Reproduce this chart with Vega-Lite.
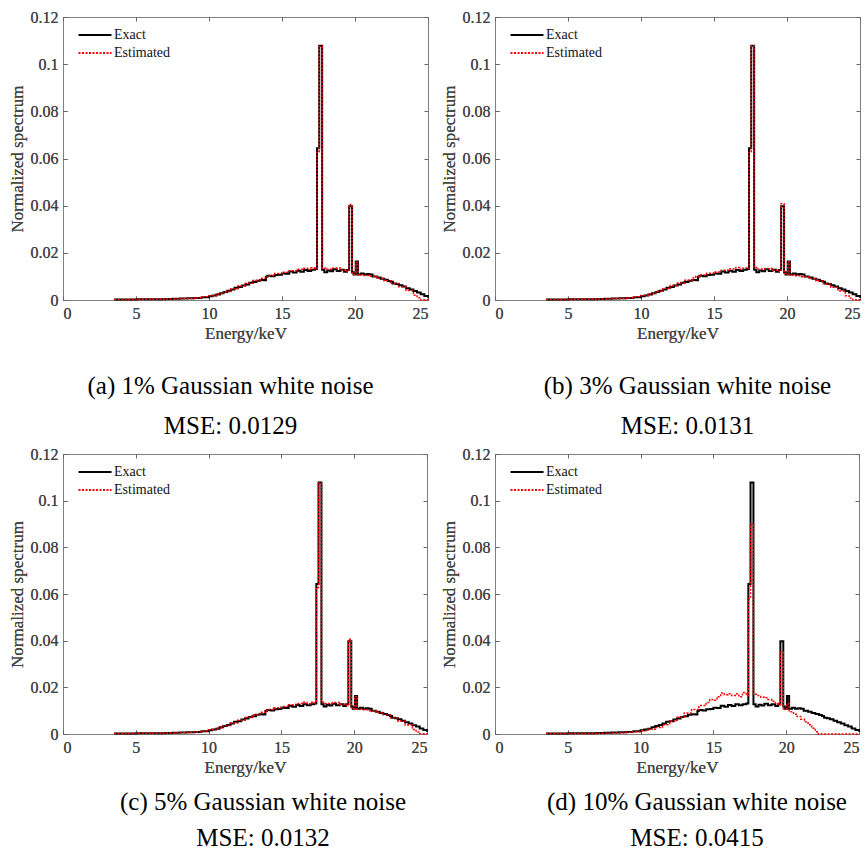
{
  "$schema": "https://vega.github.io/schema/vega-lite/v6.json",
  "background": "white",
  "padding": {"left": 7, "top": 8, "right": 0, "bottom": 0},
  "columns": 2,
  "spacing": {"row": 5, "column": 6},
  "resolve": {"scale": {"color": "independent", "strokeDash": "independent"}},
  "config": {
    "font": "Liberation Serif",
    "view": {"stroke": "#808080", "strokeWidth": 1},
    "axis": {
      "labelFont": "Liberation Serif", "titleFont": "Liberation Serif",
      "labelFontSize": 16, "titleFontSize": 17, "titleFontWeight": "normal",
      "labelColor": "#444444", "titleColor": "#444444",
      "tickColor": "#666666", "tickSize": -4, "domain": false, "grid": false,
      "labelPadding": 9, "titlePadding": 4
    },
    "legend": {
      "orient": "top-left", "title": null, "offset": 11, "padding": 0,
      "symbolType": "M-0.5,0H6.1", "symbolSize": 100, "symbolStrokeWidth": 2,
      "labelFont": "Liberation Serif", "labelFontSize": 14, "labelColor": "#111111",
      "labelOffset": 26, "rowPadding": 4
    }
  },
  "datasets": {
    "exact": [
      {"s":"Exact","e":3.5,"v":0.0002},{"s":"Exact","e":4,"v":0.0002},{"s":"Exact","e":4.5,"v":0.0002},{"s":"Exact","e":5,"v":0.0003},
      {"s":"Exact","e":5.5,"v":0.0003},{"s":"Exact","e":6,"v":0.0003},{"s":"Exact","e":6.5,"v":0.0003},{"s":"Exact","e":7,"v":0.0004},
      {"s":"Exact","e":7.5,"v":0.0005},{"s":"Exact","e":8,"v":0.0006},{"s":"Exact","e":8.5,"v":0.0007},{"s":"Exact","e":9,"v":0.0009},
      {"s":"Exact","e":9.5,"v":0.0012},{"s":"Exact","e":10,"v":0.0016},{"s":"Exact","e":10.25,"v":0.0019},{"s":"Exact","e":10.5,"v":0.0023},
      {"s":"Exact","e":10.75,"v":0.0029},{"s":"Exact","e":11,"v":0.0034},{"s":"Exact","e":11.25,"v":0.0039},{"s":"Exact","e":11.5,"v":0.0045},
      {"s":"Exact","e":11.75,"v":0.0052},{"s":"Exact","e":12,"v":0.0055},{"s":"Exact","e":12.25,"v":0.0062},{"s":"Exact","e":12.5,"v":0.0066},
      {"s":"Exact","e":12.75,"v":0.0073},{"s":"Exact","e":13,"v":0.0076},{"s":"Exact","e":13.25,"v":0.0082},{"s":"Exact","e":13.5,"v":0.0085},
      {"s":"Exact","e":13.75,"v":0.0084},{"s":"Exact","e":13.9,"v":0.0099},{"s":"Exact","e":14,"v":0.0103},{"s":"Exact","e":14.25,"v":0.0101},
      {"s":"Exact","e":14.5,"v":0.0106},{"s":"Exact","e":14.75,"v":0.0107},{"s":"Exact","e":15,"v":0.0112},{"s":"Exact","e":15.25,"v":0.0111},
      {"s":"Exact","e":15.5,"v":0.0121},{"s":"Exact","e":15.75,"v":0.0117},{"s":"Exact","e":16,"v":0.0124},{"s":"Exact","e":16.25,"v":0.012},
      {"s":"Exact","e":16.5,"v":0.0127},{"s":"Exact","e":16.75,"v":0.0123},{"s":"Exact","e":17,"v":0.0128},{"s":"Exact","e":17.25,"v":0.0131},
      {"s":"Exact","e":17.4,"v":0.0643},{"s":"Exact","e":17.55,"v":0.1078},{"s":"Exact","e":17.75,"v":0.0128},{"s":"Exact","e":17.9,"v":0.0118},
      {"s":"Exact","e":18.1,"v":0.0125},{"s":"Exact","e":18.3,"v":0.0122},{"s":"Exact","e":18.5,"v":0.013},{"s":"Exact","e":18.75,"v":0.0123},
      {"s":"Exact","e":19,"v":0.0128},{"s":"Exact","e":19.25,"v":0.012},{"s":"Exact","e":19.45,"v":0.0127},{"s":"Exact","e":19.6,"v":0.0398},
      {"s":"Exact","e":19.8,"v":0.0118},{"s":"Exact","e":19.9,"v":0.0108},{"s":"Exact","e":20.05,"v":0.0163},{"s":"Exact","e":20.2,"v":0.0108},
      {"s":"Exact","e":20.4,"v":0.0112},{"s":"Exact","e":20.6,"v":0.0108},{"s":"Exact","e":20.8,"v":0.011},{"s":"Exact","e":21,"v":0.0108},
      {"s":"Exact","e":21.2,"v":0.01},{"s":"Exact","e":21.5,"v":0.0095},{"s":"Exact","e":21.75,"v":0.009},{"s":"Exact","e":22,"v":0.0086},
      {"s":"Exact","e":22.25,"v":0.0081},{"s":"Exact","e":22.45,"v":0.0077},{"s":"Exact","e":22.6,"v":0.007},{"s":"Exact","e":22.8,"v":0.0068},
      {"s":"Exact","e":23,"v":0.0063},{"s":"Exact","e":23.25,"v":0.0057},{"s":"Exact","e":23.5,"v":0.005},{"s":"Exact","e":23.75,"v":0.0045},
      {"s":"Exact","e":24,"v":0.0038},{"s":"Exact","e":24.25,"v":0.0032},{"s":"Exact","e":24.5,"v":0.0024},{"s":"Exact","e":24.75,"v":0.0017},
      {"s":"Exact","e":25,"v":0.001}
    ],
    "estA": [
      {"s":"Estimated","e":3.5,"v":0.0002},{"s":"Estimated","e":5,"v":0.0003},{"s":"Estimated","e":7,"v":0.0004},{"s":"Estimated","e":8,"v":0.0006},
      {"s":"Estimated","e":9,"v":0.001},{"s":"Estimated","e":9.5,"v":0.0014},{"s":"Estimated","e":10,"v":0.0018},{"s":"Estimated","e":10.5,"v":0.0026},
      {"s":"Estimated","e":11,"v":0.0036},{"s":"Estimated","e":11.5,"v":0.0048},{"s":"Estimated","e":12,"v":0.006},{"s":"Estimated","e":12.5,"v":0.0071},
      {"s":"Estimated","e":13,"v":0.0083},{"s":"Estimated","e":13.5,"v":0.0092},{"s":"Estimated","e":14,"v":0.0104},{"s":"Estimated","e":14.5,"v":0.0112},
      {"s":"Estimated","e":15,"v":0.0118},{"s":"Estimated","e":15.5,"v":0.0124},{"s":"Estimated","e":16,"v":0.013},{"s":"Estimated","e":16.5,"v":0.0135},
      {"s":"Estimated","e":16.75,"v":0.0129},{"s":"Estimated","e":17,"v":0.0137},{"s":"Estimated","e":17.25,"v":0.0133},{"s":"Estimated","e":17.4,"v":0.063},
      {"s":"Estimated","e":17.55,"v":0.1075},{"s":"Estimated","e":17.75,"v":0.0135},{"s":"Estimated","e":18,"v":0.013},{"s":"Estimated","e":18.5,"v":0.0136},
      {"s":"Estimated","e":19,"v":0.0127},{"s":"Estimated","e":19.45,"v":0.0122},{"s":"Estimated","e":19.6,"v":0.0405},{"s":"Estimated","e":19.8,"v":0.0113},
      {"s":"Estimated","e":19.9,"v":0.011},{"s":"Estimated","e":20.05,"v":0.016},{"s":"Estimated","e":20.2,"v":0.0107},{"s":"Estimated","e":20.5,"v":0.0104},
      {"s":"Estimated","e":21,"v":0.0101},{"s":"Estimated","e":21.5,"v":0.0092},{"s":"Estimated","e":22,"v":0.0082},{"s":"Estimated","e":22.5,"v":0.007},
      {"s":"Estimated","e":23,"v":0.0056},{"s":"Estimated","e":23.5,"v":0.004},{"s":"Estimated","e":24,"v":0.002},{"s":"Estimated","e":24.25,"v":0.001},
      {"s":"Estimated","e":24.5,"v":0.0001},{"s":"Estimated","e":25,"v":0}
    ],
    "estB": [
      {"s":"Estimated","e":3.5,"v":0.0002},{"s":"Estimated","e":5,"v":0.0003},{"s":"Estimated","e":7,"v":0.0004},{"s":"Estimated","e":8,"v":0.0006},
      {"s":"Estimated","e":9,"v":0.001},{"s":"Estimated","e":9.5,"v":0.0014},{"s":"Estimated","e":10,"v":0.0019},{"s":"Estimated","e":10.5,"v":0.0027},
      {"s":"Estimated","e":11,"v":0.0037},{"s":"Estimated","e":11.5,"v":0.0049},{"s":"Estimated","e":12,"v":0.0061},{"s":"Estimated","e":12.5,"v":0.0072},
      {"s":"Estimated","e":13,"v":0.0084},{"s":"Estimated","e":13.5,"v":0.0094},{"s":"Estimated","e":13.75,"v":0.01},{"s":"Estimated","e":14,"v":0.0106},
      {"s":"Estimated","e":14.5,"v":0.0113},{"s":"Estimated","e":15,"v":0.0119},{"s":"Estimated","e":15.5,"v":0.0126},{"s":"Estimated","e":16,"v":0.0131},
      {"s":"Estimated","e":16.5,"v":0.0138},{"s":"Estimated","e":16.75,"v":0.013},{"s":"Estimated","e":17,"v":0.0136},{"s":"Estimated","e":17.25,"v":0.0134},
      {"s":"Estimated","e":17.4,"v":0.0625},{"s":"Estimated","e":17.55,"v":0.1078},{"s":"Estimated","e":17.75,"v":0.0138},{"s":"Estimated","e":18,"v":0.0131},
      {"s":"Estimated","e":18.5,"v":0.0134},{"s":"Estimated","e":19,"v":0.0126},{"s":"Estimated","e":19.45,"v":0.0121},{"s":"Estimated","e":19.6,"v":0.0408},
      {"s":"Estimated","e":19.8,"v":0.0112},{"s":"Estimated","e":19.9,"v":0.0108},{"s":"Estimated","e":20.05,"v":0.0162},{"s":"Estimated","e":20.2,"v":0.0106},
      {"s":"Estimated","e":20.5,"v":0.0103},{"s":"Estimated","e":21,"v":0.0099},{"s":"Estimated","e":21.5,"v":0.0091},{"s":"Estimated","e":22,"v":0.0081},
      {"s":"Estimated","e":22.5,"v":0.0068},{"s":"Estimated","e":23,"v":0.0054},{"s":"Estimated","e":23.5,"v":0.0038},{"s":"Estimated","e":24,"v":0.0018},
      {"s":"Estimated","e":24.25,"v":0.0008},{"s":"Estimated","e":24.5,"v":0.0001},{"s":"Estimated","e":25,"v":0}
    ],
    "estC": [
      {"s":"Estimated","e":3.5,"v":0.0002},{"s":"Estimated","e":5,"v":0.0003},{"s":"Estimated","e":7,"v":0.0004},{"s":"Estimated","e":8,"v":0.0006},
      {"s":"Estimated","e":9,"v":0.001},{"s":"Estimated","e":9.5,"v":0.0013},{"s":"Estimated","e":10,"v":0.0018},{"s":"Estimated","e":10.5,"v":0.0026},
      {"s":"Estimated","e":11,"v":0.0036},{"s":"Estimated","e":11.5,"v":0.0047},{"s":"Estimated","e":12,"v":0.0059},{"s":"Estimated","e":12.5,"v":0.0071},
      {"s":"Estimated","e":13,"v":0.0082},{"s":"Estimated","e":13.5,"v":0.0093},{"s":"Estimated","e":14,"v":0.0105},{"s":"Estimated","e":14.5,"v":0.0113},
      {"s":"Estimated","e":15,"v":0.0118},{"s":"Estimated","e":15.5,"v":0.0125},{"s":"Estimated","e":16,"v":0.0131},{"s":"Estimated","e":16.5,"v":0.0136},
      {"s":"Estimated","e":16.75,"v":0.013},{"s":"Estimated","e":17,"v":0.0136},{"s":"Estimated","e":17.25,"v":0.0133},{"s":"Estimated","e":17.4,"v":0.0628},
      {"s":"Estimated","e":17.55,"v":0.1076},{"s":"Estimated","e":17.75,"v":0.0136},{"s":"Estimated","e":18,"v":0.0131},{"s":"Estimated","e":18.5,"v":0.0135},
      {"s":"Estimated","e":19,"v":0.0127},{"s":"Estimated","e":19.45,"v":0.0122},{"s":"Estimated","e":19.6,"v":0.0406},{"s":"Estimated","e":19.8,"v":0.0113},
      {"s":"Estimated","e":19.9,"v":0.0109},{"s":"Estimated","e":20.05,"v":0.0161},{"s":"Estimated","e":20.2,"v":0.0106},{"s":"Estimated","e":20.5,"v":0.0104},
      {"s":"Estimated","e":21,"v":0.01},{"s":"Estimated","e":21.5,"v":0.0092},{"s":"Estimated","e":22,"v":0.0082},{"s":"Estimated","e":22.5,"v":0.0069},
      {"s":"Estimated","e":23,"v":0.0055},{"s":"Estimated","e":23.5,"v":0.0039},{"s":"Estimated","e":24,"v":0.0019},{"s":"Estimated","e":24.25,"v":0.0009},
      {"s":"Estimated","e":24.5,"v":0.0001},{"s":"Estimated","e":25,"v":0}
    ],
    "estD": [
      {"s":"Estimated","e":3.5,"v":0.0002},{"s":"Estimated","e":5,"v":0.0002},{"s":"Estimated","e":7,"v":0.0003},{"s":"Estimated","e":8,"v":0.0004},
      {"s":"Estimated","e":9,"v":0.0007},{"s":"Estimated","e":9.5,"v":0.001},{"s":"Estimated","e":10,"v":0.0014},{"s":"Estimated","e":10.5,"v":0.002},
      {"s":"Estimated","e":11,"v":0.0028},{"s":"Estimated","e":11.5,"v":0.004},{"s":"Estimated","e":12,"v":0.0055},{"s":"Estimated","e":12.5,"v":0.0072},
      {"s":"Estimated","e":13,"v":0.009},{"s":"Estimated","e":13.5,"v":0.0105},{"s":"Estimated","e":14,"v":0.0122},{"s":"Estimated","e":14.5,"v":0.0135},
      {"s":"Estimated","e":14.75,"v":0.0148},{"s":"Estimated","e":15,"v":0.0145},{"s":"Estimated","e":15.25,"v":0.016},{"s":"Estimated","e":15.5,"v":0.0176},
      {"s":"Estimated","e":15.75,"v":0.0168},{"s":"Estimated","e":16,"v":0.0172},{"s":"Estimated","e":16.25,"v":0.0165},{"s":"Estimated","e":16.5,"v":0.0172},
      {"s":"Estimated","e":16.75,"v":0.016},{"s":"Estimated","e":17,"v":0.0178},{"s":"Estimated","e":17.25,"v":0.0165},{"s":"Estimated","e":17.4,"v":0.058},
      {"s":"Estimated","e":17.55,"v":0.09},{"s":"Estimated","e":17.75,"v":0.017},{"s":"Estimated","e":18,"v":0.0165},{"s":"Estimated","e":18.25,"v":0.0158},
      {"s":"Estimated","e":18.5,"v":0.0155},{"s":"Estimated","e":18.75,"v":0.0148},{"s":"Estimated","e":19,"v":0.014},{"s":"Estimated","e":19.25,"v":0.0132},
      {"s":"Estimated","e":19.45,"v":0.0125},{"s":"Estimated","e":19.6,"v":0.035},{"s":"Estimated","e":19.8,"v":0.0108},{"s":"Estimated","e":20.05,"v":0.013},
      {"s":"Estimated","e":20.2,"v":0.0095},{"s":"Estimated","e":20.5,"v":0.0085},{"s":"Estimated","e":20.75,"v":0.0075},{"s":"Estimated","e":21,"v":0.0063},
      {"s":"Estimated","e":21.25,"v":0.0052},{"s":"Estimated","e":21.5,"v":0.004},{"s":"Estimated","e":21.75,"v":0.0025},{"s":"Estimated","e":22,"v":0.001},
      {"s":"Estimated","e":22.2,"v":0},{"s":"Estimated","e":25,"v":0}
    ]
  },
  "concat": [
    {
      "width": 365, "height": 283,
      "title": {"text": ["(a) 1% Gaussian white noise", "MSE: 0.0129"], "orient": "bottom", "anchor": "middle", "frame": "group", "dx": -15, "offset": 33, "fontSize": 25, "lineHeight": 40, "font": "Liberation Serif", "fontWeight": "normal", "color": "#000000"},
      "layer": [
        {"data": {"name": "exact"}, "mark": {"type": "line", "interpolate": "step-after", "strokeWidth": 2},
         "encoding": {
           "x": {"field": "e", "type": "quantitative", "scale": {"domain": [0, 25], "nice": false}, "axis": {"orient": "bottom", "values": [0,5,10,15,20,25], "title": "Energy/keV"}},
           "y": {"field": "v", "type": "quantitative", "scale": {"domain": [0, 0.12], "nice": false}, "axis": {"orient": "left", "values": [0,0.02,0.04,0.06,0.08,0.1,0.12], "format": ".2~f", "title": "Normalized spectrum"}},
           "color": {"field": "s", "type": "nominal", "scale": {"domain": ["Exact", "Estimated"], "range": ["#000000", "#ff0000"]}},
           "strokeDash": {"field": "s", "type": "nominal", "scale": {"domain": ["Exact", "Estimated"], "range": [[1, 0], [2, 1.5]]}}
         }},
        {"data": {"name": "estA"}, "mark": {"type": "line", "interpolate": "step-after", "strokeWidth": 1.5},
         "encoding": {
           "x": {"field": "e", "type": "quantitative", "axis": {"orient": "bottom", "values": [0,5,10,15,20,25], "title": "Energy/keV"}},
           "y": {"field": "v", "type": "quantitative", "axis": {"orient": "left", "values": [0,0.02,0.04,0.06,0.08,0.1,0.12], "format": ".2~f", "title": "Normalized spectrum"}},
           "color": {"field": "s", "type": "nominal"},
           "strokeDash": {"field": "s", "type": "nominal"}
         }},
        {"data": {"name": "exact"}, "mark": {"type": "line", "opacity": 0},
         "encoding": {
           "x": {"field": "e", "type": "quantitative", "axis": {"orient": "top", "values": [0,5,10,15,20,25], "labels": false, "title": null}},
           "y": {"field": "v", "type": "quantitative", "axis": {"orient": "right", "values": [0,0.02,0.04,0.06,0.08,0.1,0.12], "labels": false, "title": null}}
         }}
      ]
    },
    {
      "width": 365, "height": 283,
      "title": {"text": ["(b) 3% Gaussian white noise", "MSE: 0.0131"], "orient": "bottom", "anchor": "middle", "frame": "group", "dx": 10, "offset": 33, "fontSize": 25, "lineHeight": 40, "font": "Liberation Serif", "fontWeight": "normal", "color": "#000000"},
      "layer": [
        {"data": {"name": "exact"}, "mark": {"type": "line", "interpolate": "step-after", "strokeWidth": 2},
         "encoding": {
           "x": {"field": "e", "type": "quantitative", "scale": {"domain": [0, 25], "nice": false}, "axis": {"orient": "bottom", "values": [0,5,10,15,20,25], "title": "Energy/keV"}},
           "y": {"field": "v", "type": "quantitative", "scale": {"domain": [0, 0.12], "nice": false}, "axis": {"orient": "left", "values": [0,0.02,0.04,0.06,0.08,0.1,0.12], "format": ".2~f", "title": "Normalized spectrum"}},
           "color": {"field": "s", "type": "nominal", "scale": {"domain": ["Exact", "Estimated"], "range": ["#000000", "#ff0000"]}},
           "strokeDash": {"field": "s", "type": "nominal", "scale": {"domain": ["Exact", "Estimated"], "range": [[1, 0], [2, 1.5]]}}
         }},
        {"data": {"name": "estB"}, "mark": {"type": "line", "interpolate": "step-after", "strokeWidth": 1.5},
         "encoding": {
           "x": {"field": "e", "type": "quantitative", "axis": {"orient": "bottom", "values": [0,5,10,15,20,25], "title": "Energy/keV"}},
           "y": {"field": "v", "type": "quantitative", "axis": {"orient": "left", "values": [0,0.02,0.04,0.06,0.08,0.1,0.12], "format": ".2~f", "title": "Normalized spectrum"}},
           "color": {"field": "s", "type": "nominal"},
           "strokeDash": {"field": "s", "type": "nominal"}
         }},
        {"data": {"name": "exact"}, "mark": {"type": "line", "opacity": 0},
         "encoding": {
           "x": {"field": "e", "type": "quantitative", "axis": {"orient": "top", "values": [0,5,10,15,20,25], "labels": false, "title": null}},
           "y": {"field": "v", "type": "quantitative", "axis": {"orient": "right", "values": [0,0.02,0.04,0.06,0.08,0.1,0.12], "labels": false, "title": null}}
         }}
      ]
    },
    {
      "width": 364, "height": 280,
      "title": {"text": ["(c) 5% Gaussian white noise", "MSE: 0.0132"], "orient": "bottom", "anchor": "middle", "frame": "group", "dx": 18, "offset": 15, "fontSize": 25, "lineHeight": 36, "font": "Liberation Serif", "fontWeight": "normal", "color": "#000000"},
      "layer": [
        {"data": {"name": "exact"}, "mark": {"type": "line", "interpolate": "step-after", "strokeWidth": 2},
         "encoding": {
           "x": {"field": "e", "type": "quantitative", "scale": {"domain": [0, 25], "nice": false}, "axis": {"orient": "bottom", "values": [0,5,10,15,20,25], "title": "Energy/keV"}},
           "y": {"field": "v", "type": "quantitative", "scale": {"domain": [0, 0.12], "nice": false}, "axis": {"orient": "left", "values": [0,0.02,0.04,0.06,0.08,0.1,0.12], "format": ".2~f", "title": "Normalized spectrum"}},
           "color": {"field": "s", "type": "nominal", "scale": {"domain": ["Exact", "Estimated"], "range": ["#000000", "#ff0000"]}},
           "strokeDash": {"field": "s", "type": "nominal", "scale": {"domain": ["Exact", "Estimated"], "range": [[1, 0], [2, 1.5]]}}
         }},
        {"data": {"name": "estC"}, "mark": {"type": "line", "interpolate": "step-after", "strokeWidth": 1.5},
         "encoding": {
           "x": {"field": "e", "type": "quantitative", "axis": {"orient": "bottom", "values": [0,5,10,15,20,25], "title": "Energy/keV"}},
           "y": {"field": "v", "type": "quantitative", "axis": {"orient": "left", "values": [0,0.02,0.04,0.06,0.08,0.1,0.12], "format": ".2~f", "title": "Normalized spectrum"}},
           "color": {"field": "s", "type": "nominal"},
           "strokeDash": {"field": "s", "type": "nominal"}
         }},
        {"data": {"name": "exact"}, "mark": {"type": "line", "opacity": 0},
         "encoding": {
           "x": {"field": "e", "type": "quantitative", "axis": {"orient": "top", "values": [0,5,10,15,20,25], "labels": false, "title": null}},
           "y": {"field": "v", "type": "quantitative", "axis": {"orient": "right", "values": [0,0.02,0.04,0.06,0.08,0.1,0.12], "labels": false, "title": null}}
         }}
      ]
    },
    {
      "width": 364, "height": 280,
      "title": {"text": ["(d) 10% Gaussian white noise", "MSE: 0.0415"], "orient": "bottom", "anchor": "middle", "frame": "group", "dx": 20, "offset": 15, "fontSize": 25, "lineHeight": 36, "font": "Liberation Serif", "fontWeight": "normal", "color": "#000000"},
      "layer": [
        {"data": {"name": "exact"}, "mark": {"type": "line", "interpolate": "step-after", "strokeWidth": 2},
         "encoding": {
           "x": {"field": "e", "type": "quantitative", "scale": {"domain": [0, 25], "nice": false}, "axis": {"orient": "bottom", "values": [0,5,10,15,20,25], "title": "Energy/keV"}},
           "y": {"field": "v", "type": "quantitative", "scale": {"domain": [0, 0.12], "nice": false}, "axis": {"orient": "left", "values": [0,0.02,0.04,0.06,0.08,0.1,0.12], "format": ".2~f", "title": "Normalized spectrum"}},
           "color": {"field": "s", "type": "nominal", "scale": {"domain": ["Exact", "Estimated"], "range": ["#000000", "#ff0000"]}},
           "strokeDash": {"field": "s", "type": "nominal", "scale": {"domain": ["Exact", "Estimated"], "range": [[1, 0], [2, 1.5]]}}
         }},
        {"data": {"name": "estD"}, "mark": {"type": "line", "interpolate": "step-after", "strokeWidth": 1.5},
         "encoding": {
           "x": {"field": "e", "type": "quantitative", "axis": {"orient": "bottom", "values": [0,5,10,15,20,25], "title": "Energy/keV"}},
           "y": {"field": "v", "type": "quantitative", "axis": {"orient": "left", "values": [0,0.02,0.04,0.06,0.08,0.1,0.12], "format": ".2~f", "title": "Normalized spectrum"}},
           "color": {"field": "s", "type": "nominal"},
           "strokeDash": {"field": "s", "type": "nominal"}
         }},
        {"data": {"name": "exact"}, "mark": {"type": "line", "opacity": 0},
         "encoding": {
           "x": {"field": "e", "type": "quantitative", "axis": {"orient": "top", "values": [0,5,10,15,20,25], "labels": false, "title": null}},
           "y": {"field": "v", "type": "quantitative", "axis": {"orient": "right", "values": [0,0.02,0.04,0.06,0.08,0.1,0.12], "labels": false, "title": null}}
         }}
      ]
    }
  ]
}
